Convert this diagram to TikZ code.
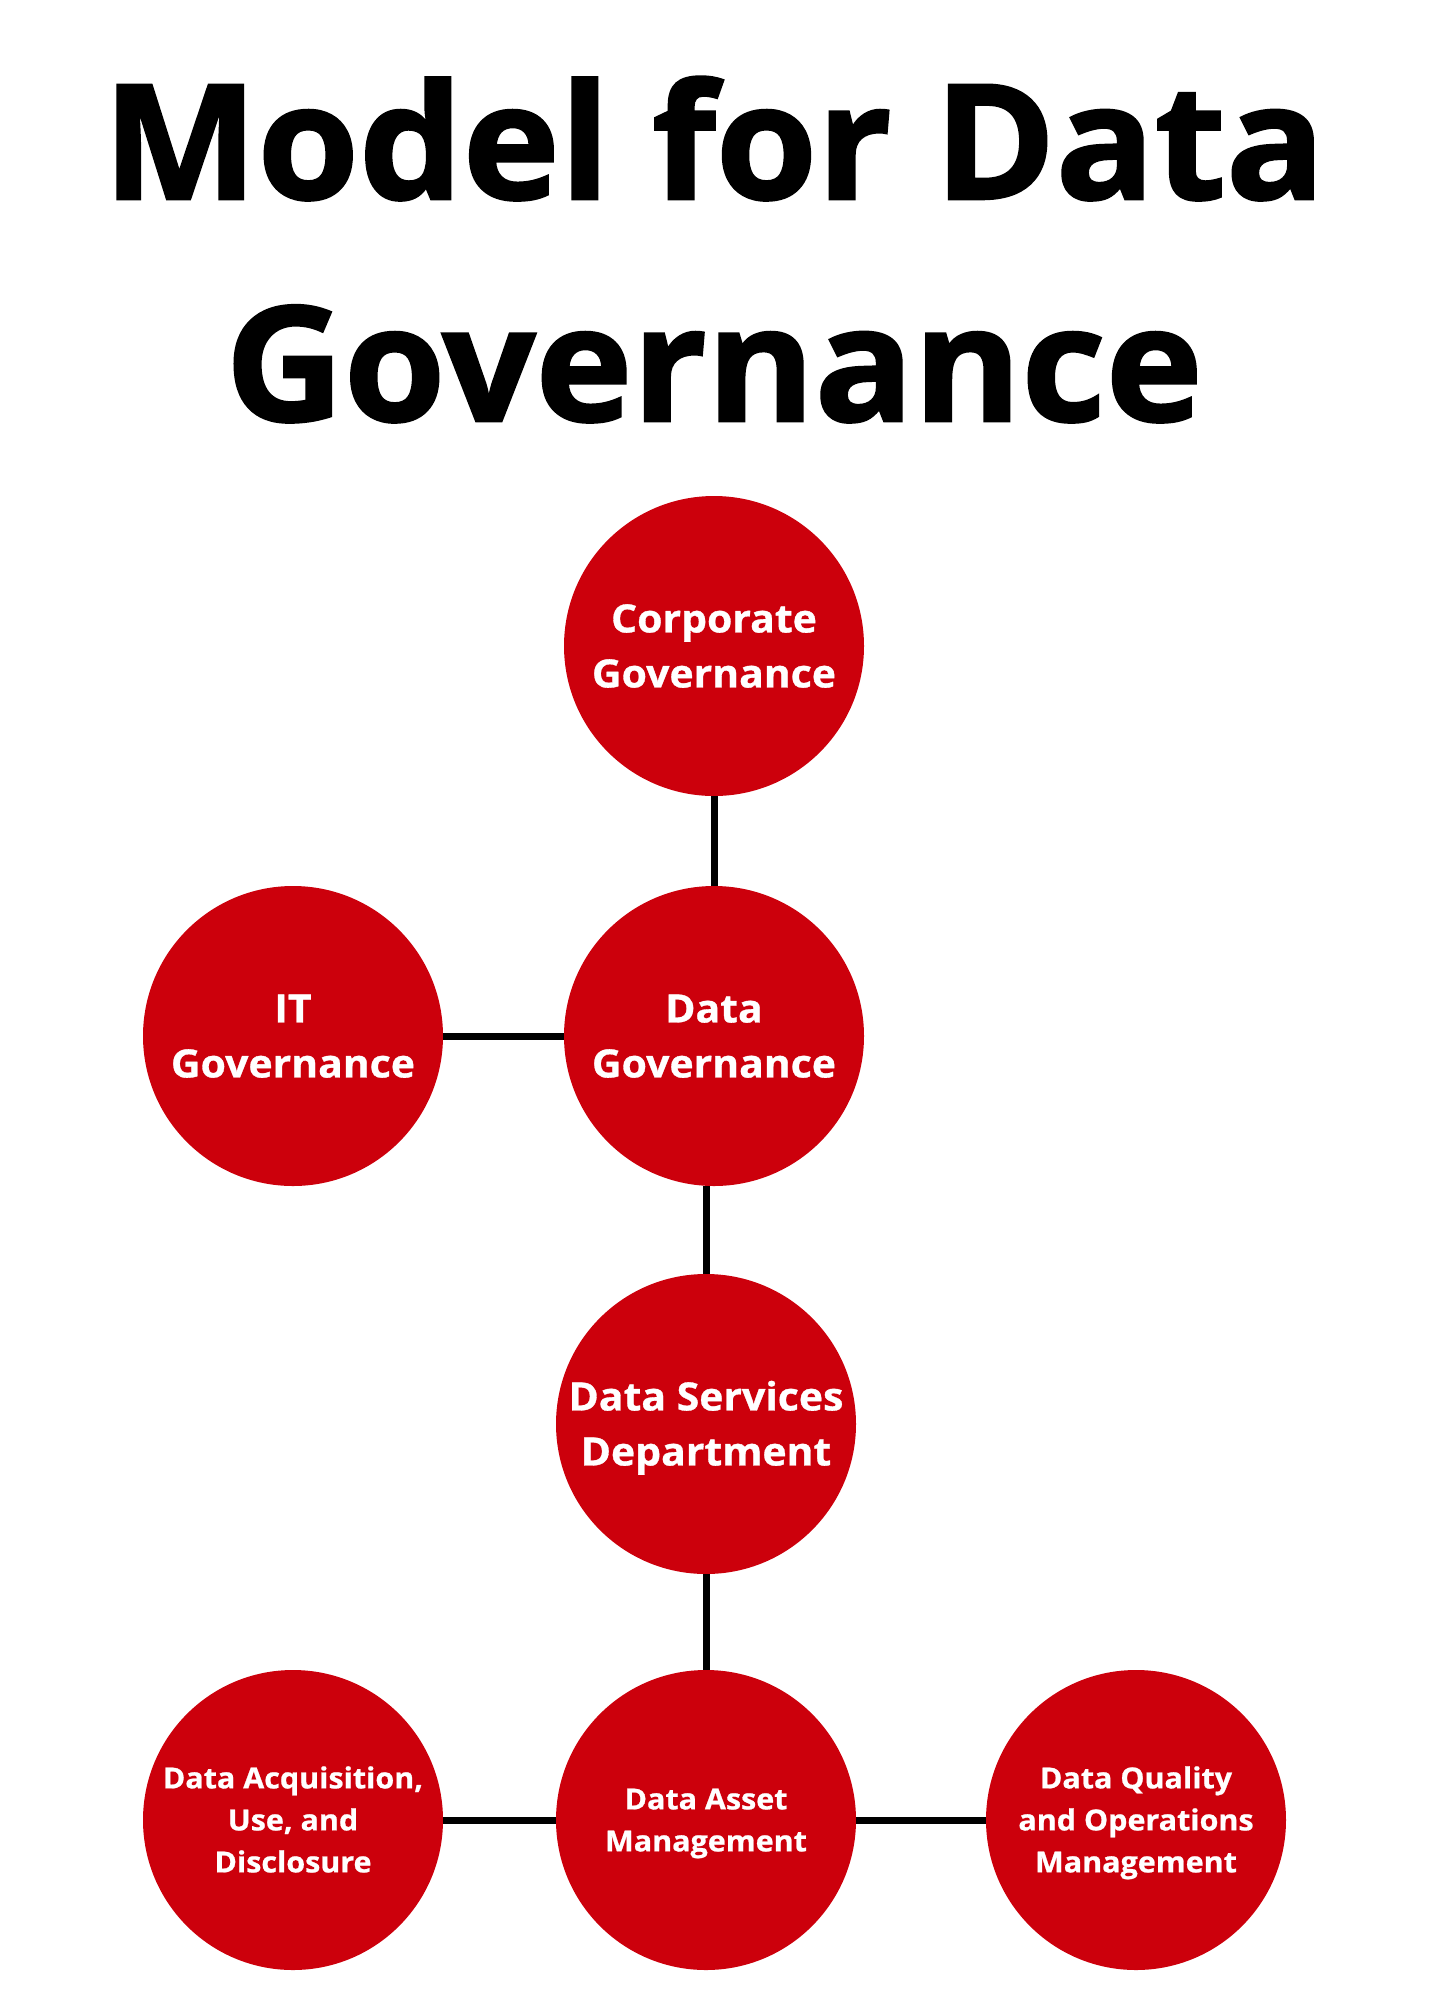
\documentclass[tikz,border=0pt]{standalone}
\usepackage{fontspec}
\usepackage{xcolor}
\setmainfont{Open Sans}
\newfontfamily\titlefont{Open Sans}[BoldFeatures={FakeBold=1.6, FakeStretch=1.025}]
\newfontfamily\bubblefont{Open Sans}[BoldFeatures={FakeBold=0.8, FakeStretch=1.05}]
\usetikzlibrary{positioning}
\definecolor{dgRed}{RGB}{204, 0, 12}
% one line of a bubble: cap-high, no depth
\newcommand{\bline}[1]{\rule{0pt}{0.714em}\smash{#1}}
\tikzset{
    base/.style={
        align=center,
        inner sep=0pt
    },
    heading/.style={
        base,
        anchor=base,
        text=black,
        font=\fontsize{160}{222}\selectfont\titlefont\bfseries
    },
    bubble/.style={
        base,
        circle,
        fill=dgRed,
        text=white,
        minimum size=300pt,
        font=\fontsize{39}{55}\selectfont\bubblefont\bfseries
    },
    smallbubble/.style={
        bubble,
        font=\fontsize{29}{42}\selectfont\bubblefont\bfseries
    },
    link/.style={
        line width=7pt,
        color=black
    }
}
\begin{document}
\begin{tikzpicture}[x=1pt, y=-1pt]
  \useasboundingbox (0,0) rectangle (1428,2000);

  % Title
  \node[heading] (titleA) at (714,199) {Model for Data};
  \node[heading] (titleB) at (714,421) {Governance};

  % Governance levels
  \node[bubble] (corp) at (714,646) {\bline{Corporate}\\\bline{Governance}};
  \node[bubble] (dgov) at (714,1036) {\bline{Data}\\\bline{Governance}};
  \node[bubble] (itgov) at (293,1036) {\bline{IT}\\\bline{Governance}};
  \node[bubble] (dsd) at (706,1424) {\bline{Data Services}\\\bline{Department}};

  % Management
  \node[smallbubble] (dam) at (706,1820) {\bline{Data Asset}\\\bline{Management}};
  \node[smallbubble] (acq) at (293,1820) {\bline{Data Acquisition,}\\\bline{Use, and}\\\bline{Disclosure}};
  \node[smallbubble] (dqm) at (1136,1820) {\bline{Data Quality}\\\bline{and Operations}\\\bline{Management}};

  % Links
  \draw[link] (corp) -- (dgov);
  \draw[link] (itgov) -- (dgov);
  \draw[link] (dsd.north) -- (dsd.north |- dgov.south);
  \draw[link] (dsd) -- (dam);
  \draw[link] (acq) -- (dam);
  \draw[link] (dam) -- (dqm);
\end{tikzpicture}
\end{document}
